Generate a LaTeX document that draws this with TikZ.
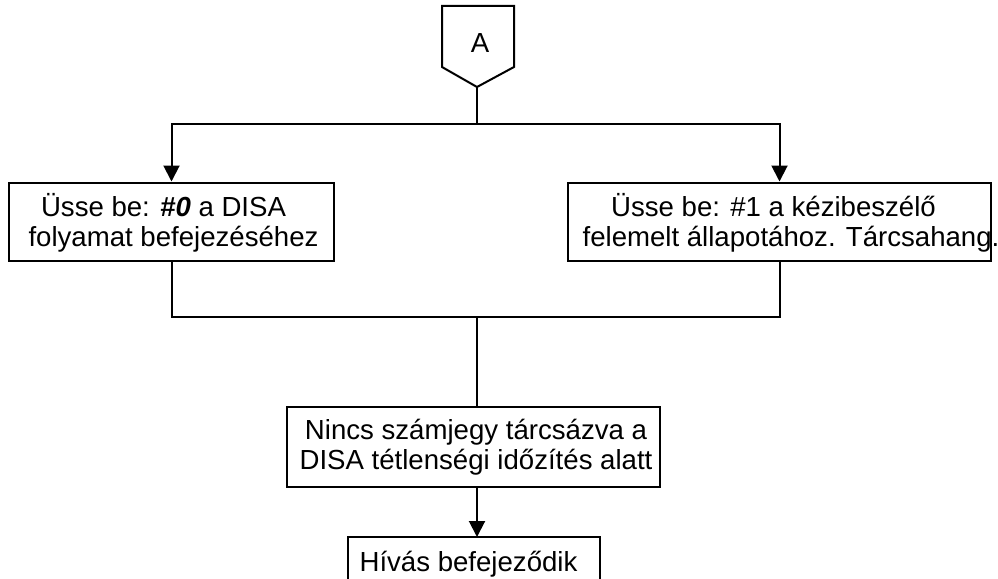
\documentclass[tikz,border=0pt]{standalone}
\usepackage{fontspec}
\setmainfont{Liberation Sans}
\usetikzlibrary{arrows.meta}
\begin{document}
\begin{tikzpicture}[x=1pt,y=-1pt,
  line/.style={line width=2pt, draw=black},
  arr/.style={line, -{Triangle[length=16pt,width=16pt]}},
  stepbox/.style={line, rectangle, inner sep=0pt},
  plain/.style={inner sep=0pt, align=center, font=\fontsize{27.6}{30}\selectfont}]
\useasboundingbox (0,0) rectangle (998,578);

% off-page connector "A"
\draw[line] (442,6) -- (514,6) -- (514,67) -- (477,87) -- (442,67) -- cycle;
\node[plain] (A) at (480,43.5) {A};
\coordinate (Atip) at (477,87);
\coordinate (split) at (477,124);
\coordinate (join) at (477,317);

% process boxes (frame and text set separately)
\node[stepbox, minimum width=325pt, minimum height=78pt] (left) at (171.5,221.5) {};
\node[plain] (lefttext) at (173.5,222.5)
  {Üsse be: \textbf{\textit{\#0}} a DISA\hspace*{20pt}\\folyamat befejezéséhez};
\node[stepbox, minimum width=423pt, minimum height=78pt] (right) at (779.5,221.5) {};
\node[plain] (righttext) at (791,222.5)
  {Üsse be: \#1 a kézibeszélő\hspace*{35pt}\\felemelt állapotához. Tárcsahang.};
\node[stepbox, minimum width=373pt, minimum height=80pt] (mid) at (473.5,447) {};
\node[plain] (midtext) at (476,447)
  {Nincs számjegy tárcsázva a\\DISA tétlenségi időzítés alatt};

% last box, cut off at the lower edge
\node[plain, minimum width=252pt, minimum height=82pt, anchor=north] (last) at (474,537) {};
\node[plain] (lasttext) at (468.5,564.5) {Hívás befejeződik};
\draw[line] (last.south west) -- (last.north west) -- (last.north east) -- (last.south east);

% connectors
\draw[line] (Atip) -- (split);
\draw[arr] (split) -| (left.north);
\draw[arr] (split) -| (right.north);
\draw[line] (left.south) |- (join);
\draw[line] (right.south) |- (join);
\draw[line] (join) -- (join |- mid.north);
\draw[arr] (mid.south -| join) -- (join |- last.north);
\end{tikzpicture}
\end{document}
